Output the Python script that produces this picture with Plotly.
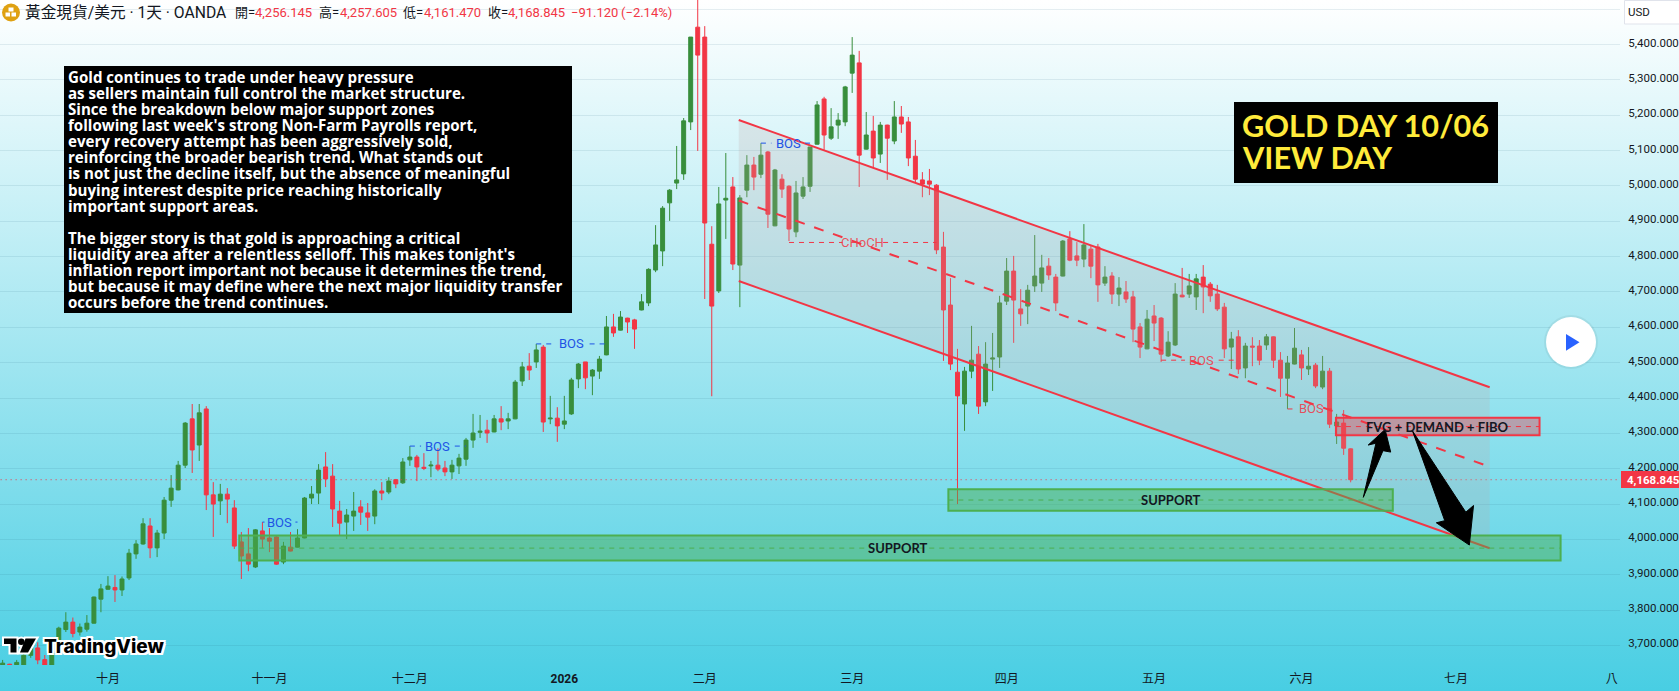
import plotly.graph_objects as go

OPEN = [3630,3647,3645,3640,3672,3693,3660,3644,3715,3745,
3766,3738,3746,3763,3831,3859,3864,3857,3891,3959,
3987,4038,3976,4018,4111,4140,4210,4341,4267,4369,
4126,4109,4128,4089,3993,3959,3922,4024,4004,4007,
3936,3978,3978,4004,4117,4131,4205,4179,4080,4049,
4066,4092,4075,4066,4137,4134,4169,4160,4225,4233,
4204,4208,4210,4202,4191,4208,4227,4281,4303,4309,
4304,4341,4335,4341,4448,4490,4502,4544,4341,4343,
4326,4355,4454,4502,4462,4476,4522,4601,4592,4626,
4621,4649,4669,4762,4816,4952,5008,5034,5181,5449,
5421,4835,4703,4960,4997,4776,4988,5059,5033,5096,
4887,5019,4999,4870,4971,4999,5118,5246,5135,5172,
5181,5319,5348,5104,5155,5090,5172,5127,5195,5181,
5084,5017,5014,5002,4827,4663,4473,4383,4476,4524,
4389,4510,4516,4674,4759,4652,4660,4717,4725,4773,
4742,4745,4850,4802,4793,4821,4827,4725,4745,4694,
4700,4686,4601,4539,4632,4626,4519,4550,4691,4694,
4686,4742,4722,4694,4657,4544,4573,4485,4547,4547,
4550,4573,4507,4456,4496,4522,4482,4493,4431,4476,
4321,4329,4256.145]
HIGH = [3659,3648,3659,3680,3700,3709,3673,3718,3753,3794,
3779,3762,3786,3838,3874,3896,3899,3895,3973,3998,
4060,4060,4027,4120,4182,4222,4332,4383,4383,4377,
4162,4157,4145,4111,4021,4032,4029,4049,4032,4012,
3993,4021,4029,4120,4151,4213,4247,4213,4109,4086,
4134,4111,4103,4142,4162,4176,4171,4230,4264,4239,
4244,4222,4258,4222,4225,4242,4287,4355,4352,4338,
4352,4377,4358,4451,4502,4527,4553,4550,4406,4374,
4406,4457,4499,4502,4482,4519,4632,4638,4646,4627,
4624,4694,4767,4889,4943,4991,5113,5192,5421,5560,
5452,4886,4997,5093,5025,4974,5087,5082,5121,5099,
5048,5033,5002,5014,5025,5110,5240,5252,5220,5206,
5283,5421,5382,5209,5198,5181,5173,5240,5226,5195,
5130,5039,5048,5005,4870,4739,4539,4488,4604,4547,
4558,4584,4689,4796,4802,4708,4720,4861,4805,4796,
4751,4847,4872,4841,4892,4830,4836,4773,4756,4742,
4731,4703,4612,4649,4663,4629,4589,4725,4768,4751,
4751,4776,4728,4720,4669,4587,4592,4556,4572,4564,
4581,4574,4530,4519,4598,4536,4544,4499,4519,4485,
4355,4366,4257.605]
LOW = [3620,3640,3630,3630,3665,3647,3640,3635,3700,3738,
3723,3728,3739,3762,3794,3857,3823,3840,3885,3945,
3985,3947,3950,4001,4092,4139,4202,4188,4222,4083,
4007,4069,4046,3973,3888,3910,3919,3976,3964,3928,
3930,3966,3977,4003,4100,4100,4148,4035,4012,4001,
4024,4041,4024,4043,4111,4128,4145,4157,4208,4165,
4196,4176,4193,4179,4171,4185,4208,4259,4287,4273,
4303,4309,4312,4340,4434,4451,4485,4304,4326,4276,
4312,4352,4428,4425,4408,4454,4521,4573,4591,4584,
4539,4648,4660,4756,4773,4901,4991,5017,5158,5099,
4680,4405,4697,4850,4762,4657,4968,4988,5022,4881,
4886,4966,4844,4855,4963,4983,5117,5102,5130,5133,
5169,5263,4997,5103,5053,5065,5017,5118,5150,5056,
5011,4968,4974,4807,4505,4479,4100,4307,4456,4355,
4377,4420,4485,4663,4556,4604,4609,4700,4700,4734,
4646,4744,4787,4773,4770,4739,4672,4717,4666,4660,
4669,4558,4513,4538,4561,4502,4516,4547,4685,4683,
4649,4640,4672,4646,4513,4482,4468,4456,4490,4493,
4536,4485,4403,4369,4495,4451,4465,4428,4425,4315,
4270,4239,4161.47]
CLOSE = [3650,3645,3652,3672,3693,3659,3644,3712,3749,3766,
3734,3752,3763,3837,3860,3868,3857,3888,3961,3987,
4044,3976,4018,4111,4145,4210,4329,4253,4358,4126,
4100,4128,4114,3981,3953,3930,4027,4001,3995,3930,
3981,3967,4004,4117,4128,4196,4171,4086,4046,4069,
4080,4077,4063,4137,4131,4165,4157,4219,4233,4205,
4201,4210,4199,4191,4210,4230,4281,4301,4306,4301,
4341,4332,4341,4445,4488,4479,4536,4332,4343,4321,
4335,4451,4496,4457,4479,4510,4601,4584,4629,4615,
4595,4672,4764,4833,4937,4988,5017,5184,5421,5370,
4895,4660,4949,4965,4779,4966,5059,5025,5087,4920,
5045,4991,4878,4980,4997,5110,5229,5144,5167,5186,
5280,5370,5087,5144,5079,5172,5135,5195,5175,5079,
5019,5005,5005,4819,4649,4496,4406,4476,4507,4377,
4496,4513,4669,4759,4677,4638,4705,4745,4768,4748,
4669,4844,4790,4790,4833,4773,4720,4742,4694,4711,
4680,4595,4544,4623,4612,4524,4558,4694,4686,4717,
4737,4714,4689,4652,4539,4567,4482,4547,4544,4507,
4573,4507,4456,4499,4541,4485,4490,4434,4476,4326,
4332,4258,4168.845]
BARS = list(range(len(CLOSE)))

MONTH_BARS = [15, 38, 58, 80, 100, 121, 143, 164, 185, 207, 229.2]
MONTH_LABELS = ["十月", "十一月", "十二月", "<b>2026</b>", "二月", "三月", "四月", "五月", "六月", "七月", "八"]
PRICE_TICKS = [3700, 3800, 3900, 4000, 4100, 4200, 4300, 4400, 4500, 4600, 4700, 4800, 4900, 5000, 5100, 5200, 5300, 5400, 5500]
PRICE_LABELS = ["3,700.000", "3,800.000", "3,900.000", "4,000.000", "4,100.000", "4,200.000", "4,300.000",
                "4,400.000", "4,500.000", "4,600.000", "4,700.000", "4,800.000", "4,900.000", "5,000.000",
                "5,100.000", "5,200.000", "5,300.000", "5,400.000", ""]

LAST_PRICE = 4168.845
# parallel channel: (bar, price) at both ends
CH_X = [104.84, 211.8]
CH_TOP = [5186.4, 4430.3]
CH_MID = [4958.7, 4205.6]
CH_BOT = [4731.0, 3974.8]
# zones: bar0, bar1, low, high, label, label bar
ZONE_BARS = [(33.7, 221.9), (134.7, 198.0), (189.9, 218.9)]
ZONE_PRICES = [(3940.0, 4010.8), (4081.0, 4141.8), (4294.5, 4344.0)]
ZONE_LABELS = ["SUPPORT", "SUPPORT", "FVG + DEMAND + FIBO"]
ZONE_LABEL_BARS = [127.5, 166.4, 204.3]
# structure breaks
BRK_TEXT = ["BOS", "BOS", "BOS", "BOS", "CHoCH", "BOS", "BOS"]
BRK_PRICE = [4049, 4264, 4553, 5121, 4840, 4507, 4369]
BRK_START = [37, 58, 76, 108, 112, 165, 183]
BRK_END = [42, 66, 86, 115, 133, 176, 190]
BRK_MID = [39.5, 62, 81, 111.9, 122.5, 170.8, 186.4]
BRK_GAP = [2.2, 2.4, 2.6, 2.4, 2.9, 2.4, 2.2]
BRK_BLUE = [True, True, True, True, False, False, False]
# drawn arrows
ARROW_UP_X = [193.8, 196.6, 197.7, 196.9, 194.5, 195.6]
ARROW_UP_P = [4119, 4251, 4247, 4311, 4267, 4272]
ARROW_DN_X = [200.8, 208.4, 209.5, 208.9, 204.2, 205.4]
ARROW_DN_P = [4307, 4077, 4096, 3984, 4047, 4053]

NOTE_LINES = [
    "Gold continues to trade under heavy pressure",
    "as sellers maintain full control the market structure.",
    "Since the breakdown below major support zones",
    "following last week's strong Non-Farm Payrolls report,",
    "every recovery attempt has been aggressively sold,",
    "reinforcing the broader bearish trend. What stands out",
    "is not just the decline itself, but the absence of meaningful",
    "buying interest despite price reaching historically",
    "important support areas.",
    "",
    "The bigger story is that gold is approaching a critical",
    "liquidity area after a relentless selloff. This makes tonight's",
    "inflation report important not because it determines the trend,",
    "but because it may define where the next major liquidity transfer",
    "occurs before the trend continues.",
]
TITLE_LINES = ["GOLD DAY 10/06", "VIEW DAY"]

W, H, PW, PH = 1679, 691, 1620, 665
Y_TOP, Y_BOT = 5525.9, 3644.7
RED, GREEN, BLUE = "#F23645", "#388E3C", "#1E53E5"
ZGREEN = "#4CAF50"
UI = "Roboto, 'Noto Sans CJK TC', sans-serif"
DARK = "#131722"

def xp(v): return v / PW
def yp(v): return 1 - v / PH

shapes, ann = [], []

def rect_px(x0, y0, x1, y1, fill, line=None, lw=0, kind="rect"):
    shapes.append(dict(type=kind, xref="paper", yref="paper", x0=xp(x0), x1=xp(x1), y0=yp(y1), y1=yp(y0),
                       fillcolor=fill, line=dict(color=line or "rgba(0,0,0,0)", width=lw), layer="above"))

def path_px(pts, fill, line=None, lw=0):
    d = "M " + " L ".join(f"{xp(a)} {yp(b)}" for a, b in pts) + " Z"
    shapes.append(dict(type="path", xref="paper", yref="paper", path=d, fillcolor=fill,
                       line=dict(color=line or "rgba(0,0,0,0)", width=lw), layer="above"))

def text_px(x, y, text, size, color, family=UI, anchor="left", **kw):
    font = dict(size=size, color=color, family=family)
    font.update(kw)
    ann.append(dict(xref="paper", yref="paper", x=xp(x), y=yp(y), text=text, showarrow=False,
                    xanchor=anchor, yanchor="middle", font=font, borderpad=0, borderwidth=0))

def data_line(x0, y0, x1, y1, color, width, dash="solid"):
    shapes.append(dict(type="line", xref="x", yref="y", x0=x0, x1=x1, y0=y0, y1=y1,
                       line=dict(color=color, width=width, dash=dash), layer="above"))

# last price dotted line
data_line(-1, LAST_PRICE, 231, LAST_PRICE, RED, 1, "1px,4px")

# channel
shapes.append(dict(type="path", xref="x", yref="y",
                   path=f"M {CH_X[0]} {CH_TOP[0]} L {CH_X[1]} {CH_TOP[1]} L {CH_X[1]} {CH_BOT[1]} L {CH_X[0]} {CH_BOT[0]} Z",
                   fillcolor="rgba(190,170,170,0.22)", line=dict(width=0), layer="above"))
data_line(CH_X[0], CH_TOP[0], CH_X[1], CH_TOP[1], RED, 2)
data_line(CH_X[0], CH_BOT[0], CH_X[1], CH_BOT[1], RED, 2)
data_line(CH_X[0], CH_MID[0], CH_X[1], CH_MID[1], RED, 2, "10px,10px")

# break of structure lines
for t, p, a, b, m, g, blue in zip(BRK_TEXT, BRK_PRICE, BRK_START, BRK_END, BRK_MID, BRK_GAP, BRK_BLUE):
    c = BLUE if blue else RED
    data_line(a, p, m - g, p, c, 1, "5px,5px")
    data_line(m + g, p, b, p, c, 1, "5px,5px")
    ann.append(dict(xref="x", yref="y", x=m, y=p, text=t, showarrow=False, xanchor="center", yanchor="middle",
                    font=dict(size=13, color=c if blue else "rgba(242,54,69,0.85)", family="Roboto, sans-serif")))

# zones
for i, ((a, b), (lo, hi), lab, lx) in enumerate(zip(ZONE_BARS, ZONE_PRICES, ZONE_LABELS, ZONE_LABEL_BARS)):
    is_red = i == 2
    c = RED if is_red else ZGREEN
    shapes.append(dict(type="rect", xref="x", yref="y", x0=a, x1=b, y0=lo, y1=hi,
                       fillcolor="rgba(242,54,69,0.38)" if is_red else "rgba(76,175,80,0.47)",
                       line=dict(color=c, width=2), layer="above"))
    mid = (lo + hi) / 2
    data_line(a, mid, b, mid, c, 1, "5px,5px")
    ann.append(dict(xref="x", yref="y", x=lx, y=mid, text=f"<b>{lab}</b>", showarrow=False, xanchor="center",
                    yanchor="middle", font=dict(size=13, color=DARK, family="Lato, sans-serif")))

# arrows
for xs, ps in ((ARROW_UP_X, ARROW_UP_P), (ARROW_DN_X, ARROW_DN_P)):
    d = "M " + " L ".join(f"{a} {b}" for a, b in zip(xs, ps)) + " Z"
    shapes.append(dict(type="path", xref="x", yref="y", path=d, fillcolor="#000000",
                       line=dict(color="#000000", width=1), layer="above"))

# black note box
rect_px(64, 66, 572, 313, "#000000")
for k, line in enumerate(NOTE_LINES):
    if line:
        text_px(67.7, 77.3 + 16.03 * k, f"<b>{line}</b>", 15.1, "#FFFFFF", family="'Open Sans', sans-serif")

# title box
rect_px(1234, 102, 1498, 183, "#000000")
for k, line in enumerate(TITLE_LINES):
    text_px(1242, 125 + 32.3 * k, f"<b>{line}</b>", 30.7, "#FFEB3B", family="Lato, sans-serif")

# price label + USD box
rect_px(1621, 471, 1685, 488, RED)
text_px(1627, 479.5, f"<b>{LAST_PRICE:,.3f}</b>", 11.5, "#FFFFFF")
rect_px(1624.5, 0.5, 1695, 24, "#FFFFFF", "#E0E3EB", 1)
text_px(1628, 12, "USD", 11.5, DARK)

# header
rect_px(2, 3.5, 20, 21.5, "#DFA112", kind="circle")
rect_px(8.5, 7.5, 13.5, 11.5, "#FFFFFF")
rect_px(5.5, 12.5, 10, 16.5, "#FFFFFF")
rect_px(11.5, 12.5, 16, 16.5, "#FFFFFF")
text_px(24.5, 13, "黃金現貨/美元 · 1天 · OANDA", 15.7, DARK)
for x, lab, val, vx in [(235, "開=", "4,256.145", 255.4), (319, "高=", "4,257.605", 339.7),
                        (403, "低=", "4,161.470", 423.7), (487.5, "收=", "4,168.845", 508)]:
    text_px(x, 13, lab, 13, DARK)
    text_px(vx, 13, val, 13, RED)
text_px(571.4, 13, "−91.120", 13, RED)
text_px(621.4, 13, "(−2.14%)", 13, RED)

# play button
rect_px(1544, 315, 1598, 369, "rgba(0,0,0,0.05)", kind="circle")
rect_px(1546, 317, 1596, 367, "#FFFFFF", kind="circle")
path_px([(1566, 334), (1579.5, 342.3), (1566, 350.7)], "#2962FF")

# TradingView mark
MARK_T = [(4, 638.5), (16.5, 638.5), (16.5, 652.5), (10.5, 652.5), (10.5, 644), (4, 644)]
MARK_S = [(25.5, 638.5), (36, 638.5), (28, 652.5), (20, 652.5)]
for pts in (MARK_T, MARK_S):
    path_px(pts, "#FFFFFF", "#FFFFFF", 4)
rect_px(18, 638.5, 24.5, 645, "#FFFFFF", "#FFFFFF", 4, kind="circle")
for pts in (MARK_T, MARK_S):
    path_px(pts, "#000000")
rect_px(18, 638.5, 24.5, 645, "#000000", kind="circle")
text_px(44, 646.5, "TradingView", 19, "#000000", family="Inter, sans-serif", weight=800,
        shadow="2px 0 0 #fff, -2px 0 0 #fff, 0 2px 0 #fff, 0 -2px 0 #fff, 2px 2px 0 #fff, -2px -2px 0 #fff, 2px -2px 0 #fff, -2px 2px 0 #fff")

fig = go.Figure(go.Candlestick(
    x=BARS, open=OPEN, high=HIGH, low=LOW, close=CLOSE,
    increasing=dict(line=dict(color=GREEN, width=1), fillcolor=GREEN),
    decreasing=dict(line=dict(color=RED, width=1), fillcolor=RED),
    whiskerwidth=0, showlegend=False, hoverinfo="skip"))

fig.update_layout(
    width=W, height=H, margin=dict(l=0, r=W - PW, t=0, b=H - PH, pad=0, autoexpand=False),
    paper_bgcolor="rgba(0,0,0,0)", plot_bgcolor="rgba(0,0,0,0)", boxgap=0.25, boxgroupgap=0.25, showlegend=False,
    shapes=shapes, annotations=ann,
    xaxis=dict(range=[-0.376, 230.36], rangeslider=dict(visible=False), showgrid=False, zeroline=False, automargin=False,
               tickmode="array", tickvals=MONTH_BARS, ticktext=MONTH_LABELS, ticks="outside", ticklen=3,
               tickcolor="rgba(0,0,0,0)", tickfont=dict(family=UI, size=12, color=DARK), showline=False),
    yaxis=dict(range=[Y_BOT, Y_TOP], side="right", tickmode="array", tickvals=PRICE_TICKS, ticktext=PRICE_LABELS,
               automargin=False, ticklabelshift=-2,
               showgrid=True, gridcolor="rgba(40,100,125,0.11)", gridwidth=1, zeroline=False, showline=False,
               ticks="outside", ticklen=5, tickcolor="rgba(0,0,0,0)",
               tickfont=dict(family=UI, size=11.5, color=DARK)),
)

POST = """
document.documentElement.style.height='100%';
document.body.style.margin='0';
document.body.style.overflow='hidden';
document.body.style.height='691px';
document.body.style.background='linear-gradient(180deg,#ffffff 0%,#48cee3 100%)';
"""
fig.write_html("out.html", config=dict(displayModeBar=False), post_script=POST)
